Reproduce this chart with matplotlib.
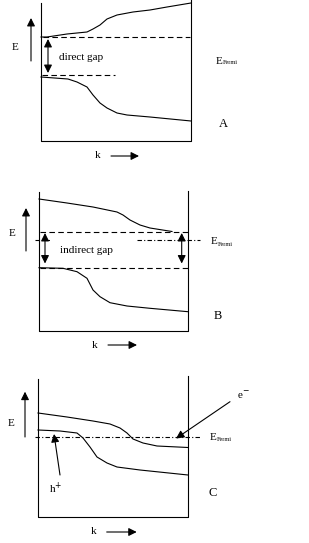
import matplotlib
matplotlib.use("Agg")
import matplotlib.pyplot as plt

plt.rcParams['font.family'] = ['Liberation Serif', 'DejaVu Serif']

# band curves (k, E) in pixel units of the drawing
a_cond_k = [41, 47, 67, 87, 93, 100, 107, 117, 133, 150, 167, 191]
a_cond_e = [37, 37, 34, 32, 29, 25, 19, 15, 12, 10, 7, 3]
a_val_k = [41, 68, 77, 87, 93, 100, 107, 117, 127, 150, 191]
a_val_e = [77, 79, 82, 87, 95, 103, 108, 113, 115, 117, 121]

b_cond_k = [39, 67, 93, 117, 123, 130, 140, 150, 172]
b_cond_e = [199, 203, 207, 212, 215, 220, 225, 228, 231.5]
b_val_k = [39, 63, 77, 87, 93, 100, 110, 127, 150, 188]
b_val_e = [267.7, 268.3, 271.7, 278.3, 290, 296.7, 302.7, 306, 308.3, 311.7]

c_cond_k = [38, 67, 93, 110, 120, 127, 133, 143, 157, 188]
c_cond_e = [413, 417, 421, 424, 428, 433, 439, 443, 446, 447.5]
c_val_k = [38, 60, 77, 83, 90, 97, 107, 117, 140, 188]
c_val_e = [430, 431, 433, 438, 447, 457, 463, 467, 470, 475]

labels = ['A', 'B', 'C']

fig = plt.figure(figsize=(3.09, 5.43), dpi=100)
ax = fig.add_axes([0, 0, 1, 1])
ax.set_xlim(0, 309)
ax.set_ylim(543, 0)
ax.axis('off')

lw = 0.8
fs = 8


def arrow(x0, y0, x1, y1, both=False):
    style = '<|-|>' if both else '-|>'
    ax.annotate('', xy=(x1, y1), xytext=(x0, y0),
                arrowprops=dict(arrowstyle=style, color='black', lw=lw,
                                mutation_scale=12, shrinkA=0, shrinkB=0))


def frame(left, right, top_l, top_r, bottom):
    ax.plot([left, left, right, right], [top_l, bottom, bottom, top_r], color='black', lw=lw)


def axes_labels(ex, ey, ax_x, ay0, ay1, kx, ky, kx0, kx1):
    ax.text(ex, ey, 'E', fontsize=fs, ha='center', va='center')
    arrow(ax_x, ay0, ax_x, ay1)
    ax.text(kx, ky, 'k', fontsize=fs, ha='center', va='center')
    arrow(kx0, ky, kx1, ky)


def fermi_label(x, y):
    ax.text(x, y, 'E', fontsize=fs, ha='left', va='center')
    ax.text(x + 7, y + 2, 'Fermi', fontsize=4.5, ha='left', va='center')


# ---- panel A
frame(41, 191, 3, 0, 141)
ax.plot(a_cond_k, a_cond_e, color='black', lw=lw)
ax.plot(a_val_k, a_val_e, color='black', lw=lw)
ax.plot([43, 190], [37.3, 37.3], color='black', lw=lw, ls=(0, (5, 3)))
ax.plot([42, 115], [75.3, 75.3], color='black', lw=lw, ls=(0, (5, 3)))
arrow(48, 39, 48, 73, both=True)
ax.text(59, 57, 'direct gap', fontsize=fs, ha='left', va='center')
axes_labels(15, 47, 31, 61, 18, 98, 156, 111, 139)
fermi_label(216, 61)
ax.text(223, 124, labels[0], fontsize=9, ha='center', va='center')

# ---- panel B
frame(39, 188, 192, 191, 331)
ax.plot(b_cond_k, b_cond_e, color='black', lw=lw)
ax.plot(b_val_k, b_val_e, color='black', lw=lw)
ax.plot([40, 188], [232.3, 232.3], color='black', lw=lw, ls=(0, (5, 3)))
ax.plot([40, 188], [267.7, 267.7], color='black', lw=lw, ls=(0, (5, 3)))
ax.plot([35, 50], [240.3, 240.3], color='black', lw=lw, ls=(0, (4, 2, 1, 2)))
ax.plot([137, 200], [240.3, 240.3], color='black', lw=lw, ls=(0, (4, 2, 1, 2)))
arrow(45, 233, 45, 263.5, both=True)
arrow(181.7, 233, 181.7, 263.5, both=True)
ax.text(60, 250.7, 'indirect gap', fontsize=fs, ha='left', va='center')
axes_labels(12, 233, 26, 251, 208, 95, 345, 108, 137)
fermi_label(211, 242)
ax.text(218, 315.7, labels[1], fontsize=9, ha='center', va='center')

# ---- panel C
frame(37.7, 187.7, 379, 376, 516.7)
ax.plot(c_cond_k, c_cond_e, color='black', lw=lw)
ax.plot(c_val_k, c_val_e, color='black', lw=lw)
ax.plot([35, 200], [437.3, 437.3], color='black', lw=lw, ls=(0, (4, 2, 1, 2)))
arrow(60, 475, 54, 434)
ax.text(56, 488.5, 'h$^{+}$', fontsize=fs, ha='center', va='center')
arrow(230, 401.7, 176, 438.5)
ax.text(243.5, 395, 'e$^{-}$', fontsize=fs, ha='center', va='center')
axes_labels(10.7, 423.3, 25, 437, 391.7, 94, 532, 106.7, 136.7)
fermi_label(210, 437.3)
ax.text(213, 493.3, labels[2], fontsize=9, ha='center', va='center')

fig.savefig('out.png', dpi=100)
